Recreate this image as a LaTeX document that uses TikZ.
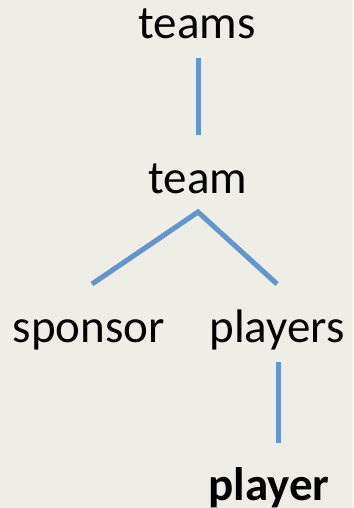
\documentclass[tikz,border=0pt]{standalone}
\usepackage{fontspec}
\setmainfont{Carlito}
\definecolor{bgcol}{HTML}{EFEEE6}
\definecolor{linecol}{HTML}{6397CC}
\tikzset{
  lbl/.style={anchor=base, inner sep=0pt, font=\fontsize{47}{56}\selectfont},
  edge/.style={draw=linecol, line width=5pt},
  shadowedge/.style={draw=black!25, line width=5pt, opacity=0.5},
}
\begin{document}
\begin{tikzpicture}[x=1pt,y=-1pt]
\fill[bgcol] (0,0) rectangle (353,508);
\useasboundingbox (0,0) rectangle (353,508);
\node[lbl] (teams) at (197,39) {teams};
\node[lbl] (team) at (198,193) {team};
\node[lbl] (sponsor) at (89,342) {sponsor};
\node[lbl] (players) at (277,342) {players};
\node[lbl, font=\fontsize{47}{56}\selectfont\bfseries] (player) at (269,500) {player};
\coordinate (a1) at (198,58);
\coordinate (a2) at (198,135);
\coordinate (b0) at (198,212);
\coordinate (b1) at (92,284);
\coordinate (b2) at (277,284);
\coordinate (c1) at (278,362);
\coordinate (c2) at (278,443);
\begin{scope}[shift={(0.8,1.6)}]
\draw[shadowedge] (a1) -- (a2);
\draw[shadowedge] (b1) -- (b0) -- (b2);
\draw[shadowedge] (c1) -- (c2);
\end{scope}
\draw[edge] (a1) -- (a2);
\draw[edge] (b1) -- (b0) -- (b2);
\draw[edge] (c1) -- (c2);
\end{tikzpicture}
\end{document}
